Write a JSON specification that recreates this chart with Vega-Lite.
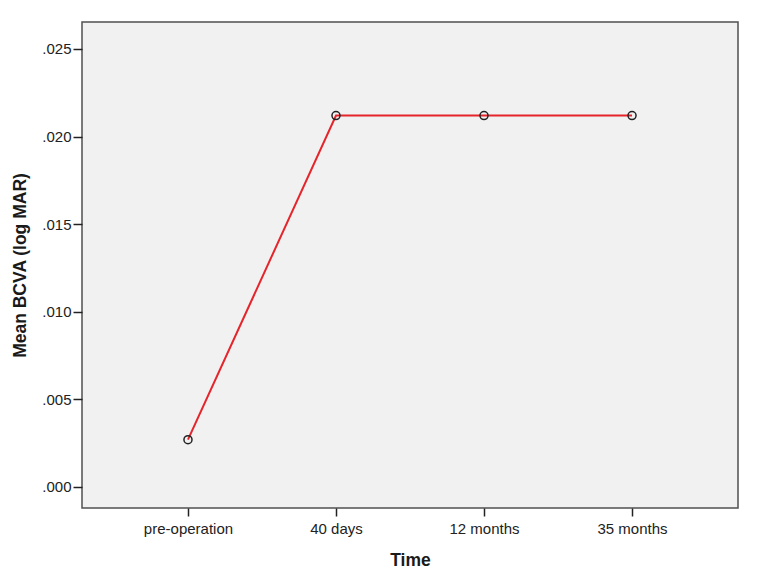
{
  "$schema": "https://vega.github.io/schema/vega-lite/v6.json",
  "width": 656,
  "height": 486,
  "autosize": {"type": "none"},
  "padding": {"left": 82, "top": 22, "right": 21, "bottom": 78},
  "background": "white",
  "config": {
    "view": {"fill": "#f1f1f1", "stroke": "#505050", "strokeWidth": 1.5},
    "font": "Liberation Sans"
  },
  "data": {
    "values": [
      {"time": "pre-operation", "bcva": 0.0027},
      {"time": "40 days", "bcva": 0.0212},
      {"time": "12 months", "bcva": 0.0212},
      {"time": "35 months", "bcva": 0.0212}
    ]
  },
  "encoding": {
    "x": {
      "field": "time",
      "type": "nominal",
      "sort": null,
      "scale": {"type": "point", "padding": 0.716},
      "axis": {
        "title": "Time",
        "titleFont": "Liberation Sans",
        "titleFontSize": 17.5,
        "titleFontWeight": "bold",
        "titleColor": "#1a1a1a",
        "titlePadding": 15,
        "labelAngle": 0,
        "labelFontSize": 15,
        "labelColor": "#222222",
        "labelPadding": 5,
        "tickColor": "#222222",
        "tickWidth": 1.5,
        "tickSize": 8,
        "domain": false,
        "grid": false
      }
    },
    "y": {
      "field": "bcva",
      "type": "quantitative",
      "scale": {"domain": [-0.0012, 0.02654], "nice": false, "zero": false},
      "axis": {
        "title": "Mean BCVA (log MAR)",
        "titleFont": "Liberation Sans",
        "titleFontSize": 17.5,
        "titleFontWeight": "bold",
        "titleColor": "#1a1a1a",
        "titlePadding": 12,
        "values": [0, 0.005, 0.01, 0.015, 0.02, 0.025],
        "labelExpr": "substring(format(datum.value, '.3f'), 1)",
        "labelFontSize": 15,
        "labelColor": "#222222",
        "labelPadding": 2,
        "tickColor": "#222222",
        "tickWidth": 1.5,
        "tickSize": 9,
        "domain": false,
        "grid": false
      }
    }
  },
  "layer": [
    {"mark": {"type": "line", "color": "#e5242b", "strokeWidth": 2}},
    {"mark": {"type": "point", "shape": "circle", "filled": false, "stroke": "#222222", "strokeWidth": 1.5, "size": 65, "opacity": 1}}
  ]
}
